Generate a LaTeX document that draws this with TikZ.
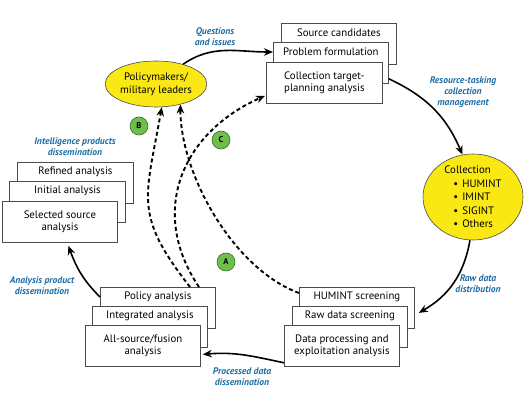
\documentclass[tikz,border=0pt]{standalone}
\usepackage{fontspec}
\setmainfont{PT Sans}
\usetikzlibrary{arrows.meta,calc,shapes.geometric}
\definecolor{lblue}{RGB}{30,110,165}
\definecolor{ylw}{RGB}{250,232,20}
\definecolor{grn}{RGB}{110,190,75}
\definecolor{dgrn}{RGB}{50,110,40}
\begin{document}
\begin{tikzpicture}[x=1pt,y=1pt,
  card/.style={draw=black!70, line width=0.8pt, fill=white, minimum width=115pt, minimum height=41pt, anchor=north west, inner sep=0pt, font=\fontsize{10.8}{12.5}\selectfont, align=center},
  cardtxt/.style={font=\fontsize{10.8}{12.5}\selectfont, inner sep=0pt},
  flow/.style={line width=1.6pt, -{Stealth[length=9pt,width=7.5pt]}},
  dflow/.style={line width=1.9pt, dash pattern=on 4pt off 2.8pt, -{Stealth[length=9pt,width=7.5pt]}},
  lab/.style={font=\fontsize{9.6}{10.8}\selectfont\bfseries\itshape, text=lblue, align=center, inner sep=0pt},
  ell/.style={ellipse, draw=black!70, line width=0.6pt, fill=ylw, inner sep=0pt},
  badge/.style={circle, draw=dgrn, line width=0.6pt, fill=grn, minimum size=18pt, inner sep=0pt, font=\fontsize{8.5}{8.5}\selectfont\bfseries}
]
\fill[white] (0,0) rectangle (529,396);
\useasboundingbox (0,0) rectangle (529,396);

% top-right stack
\node[card] (sc) at (281,373) {};
\node[cardtxt] (sct) at ($(sc.north)+(0,-9.75)$) {Source candidates};
\node[card] (pf) at (273,354) {};
\node[cardtxt] (pft) at ($(pf.north)+(0,-9.75)$) {Problem formulation};
\node[card, minimum width=116pt] (ct) at (266,334) {Collection target-\\planning analysis};

% left stack
\node[card, minimum width=116pt] (ra) at (17,234) {};
\node[cardtxt] (rat) at ($(ra.north)+(0,-9.75)$) {Refined analysis};
\node[card, minimum width=116pt] (ia) at (9,215) {};
\node[cardtxt] (iat) at ($(ia.north)+(0,-9.75)$) {Initial analysis};
\node[card] (ss) at (2,195) {Selected source\\analysis};

% bottom-left stack
\node[card] (pa) at (100,109) {};
\node[cardtxt] (pat) at ($(pa.north)+(0,-9.75)$) {Policy analysis};
\node[card] (ig) at (92,90) {};
\node[cardtxt] (igt) at ($(ig.north)+(0,-9.75)$) {Integrated analysis};
\node[card] (af) at (85,71) {All-source/fusion\\analysis};

% bottom-right stack
\node[card] (hs) at (299,109) {};
\node[cardtxt] (hst) at ($(hs.north)+(0,-9.75)$) {HUMINT screening};
\node[card] (rd) at (292,90) {};
\node[cardtxt] (rdt) at ($(rd.north)+(0,-9.75)$) {Raw data screening};
\node[card] (dp) at (284,71) {Data processing and\\exploitation analysis};

% ellipses
\node[ell, minimum width=100pt, minimum height=46pt, align=center, font=\fontsize{10.8}{13}\selectfont] (pm) at (156,312) {Policymakers/\\military leaders};
\node[ell, minimum width=100pt, minimum height=86pt] (col) at (473,199) {};
\node[font=\fontsize{10.8}{13.5}\selectfont, inner sep=0pt] (colt) at (473,198) {\begin{tabular}{@{}l@{}}Collection\\ \hspace{9pt}\textbullet\hspace{4pt}HUMINT\\ \hspace{9pt}\textbullet\hspace{4pt}IMINT\\ \hspace{9pt}\textbullet\hspace{4pt}SIGINT\\ \hspace{9pt}\textbullet\hspace{4pt}Others\end{tabular}};

% solid cycle arrows
\draw[flow] (pm.36) to[out=35,in=180] ($(pf.north west)+(0,-10)$);
\draw[flow] ($(pf.south east)+(0,5)$) to[out=-25,in=113] (col.104);
\draw[flow] (col.266) to[out=-100,in=30] ($(hs.east)+(4,-5)$);
\draw[flow] ($(dp.south west)+(0,4)$) to[out=168,in=5] ($(af.east)+(2,-8.5)$);
\draw[flow] ($(pa.north west)+(0,-10)$) to[out=135,in=-70] ($(ss.south)+(8.5,-3)$);

% dashed arrows
\draw[dflow] ($(pa.north west)+(90,0)$) to[out=128,in=-100,looseness=1.3] (pm.-76);
\draw[dflow] ($(pa.north west)+(99,0)$) to[out=124,in=-156,looseness=1.15] ($(ct.south west)+(-1,8)$);
\draw[dflow] ($(hs.north west)+(0,-6)$) to[out=160,in=-90,looseness=0.8] (pm.-40);

% badges
\node[badge] (bB) at (139,270) {B};
\node[badge] (bC) at (221,256) {C};
\node[badge] (bA) at (226,134) {A};

% labels
\node[lab] (l1) at (215,359) {Questions\\and issues};
\node[lab] (l2) at (463,304) {Resource-tasking\\collection\\management};
\node[lab] (l3) at (478,112) {Raw data\\distribution};
\node[lab] (l4) at (242,19) {Processed data\\dissemination};
\node[lab] (l5) at (42,110) {Analysis product\\dissemination};
\node[lab] (l6) at (75,249) {Intelligence products\\dissemination};
\end{tikzpicture}
\end{document}
